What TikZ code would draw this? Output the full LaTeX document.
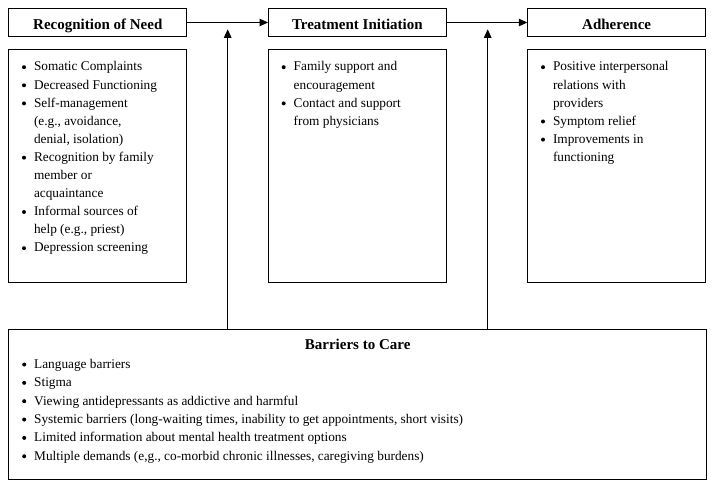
\documentclass[tikz,border=0pt]{standalone}
\usepackage{fontspec}
\setmainfont{Liberation Serif}
\usetikzlibrary{arrows.meta,calc}
\newcommand{\bulletmark}{\makebox[12pt][l]{\tikz[baseline=0pt]\fill (2pt,3.8pt) circle[radius=2pt];}}
\begin{document}
\begin{tikzpicture}[x=1pt,y=-1pt,
  box/.style={draw, line width=1pt, inner sep=0pt, anchor=north west},
  head/.style={box, minimum height=27.4pt, text height=14pt, text depth=0pt,
    font=\fontsize{15}{18}\selectfont\bfseries},
  content/.style={box, minimum height=232.7pt},
  listtext/.style={anchor=base west, inner sep=0pt, font=\fontsize{13.3}{18.1}\selectfont},
  blisttext/.style={anchor=base west, inner sep=0pt, font=\fontsize{13.3}{18.35}\selectfont},
  titletext/.style={anchor=base, inner sep=0pt, font=\fontsize{15}{18}\selectfont\bfseries},
  arr/.style={line width=1pt, -{Triangle[length=8.5pt,width=7.5pt]}}]
\useasboundingbox (0,0) rectangle (714,489);

% header boxes
\node[head, minimum width=178pt] (rn) at (8.3,8.3) {Recognition of Need};
\node[head, minimum width=177.7pt] (ti) at (268,8.3) {Treatment Initiation};
\node[head, minimum width=177.7pt] (ad) at (527.3,8.3) {Adherence};

% content boxes
\node[content, minimum width=178pt] (rc) at (8.3,49.3) {};
\node[content, minimum width=177.7pt] (tc) at (268,49.3) {};
\node[content, minimum width=177.7pt] (ac) at (527.3,49.3) {};

\node[listtext] (rl) at ($(rc.north west)+(13.5,21.7)$) {\begin{tabular}[t]{@{}l@{}l@{}}
\bulletmark & Somatic Complaints\\
\bulletmark & Decreased Functioning\\
\bulletmark & Self-management\\
 & (e.g., avoidance,\\
 & denial, isolation)\\
\bulletmark & Recognition by family\\
 & member or\\
 & acquaintance\\
\bulletmark & Informal sources of\\
 & help (e.g., priest)\\
\bulletmark & Depression screening
\end{tabular}};

\node[listtext] (tl) at ($(tc.north west)+(13.5,21.7)$) {\begin{tabular}[t]{@{}l@{}l@{}}
\bulletmark & Family support and\\
 & encouragement\\
\bulletmark & Contact and support\\
 & from physicians
\end{tabular}};

\node[listtext] (al) at ($(ac.north west)+(13.5,21.7)$) {\begin{tabular}[t]{@{}l@{}l@{}}
\bulletmark & Positive interpersonal\\
 & relations with\\
 & providers\\
\bulletmark & Symptom relief\\
\bulletmark & Improvements in\\
 & functioning
\end{tabular}};

% barriers box
\node[box, minimum width=697.7pt, minimum height=150pt] (bc) at (8.3,329.3) {};
\node[titletext] (bt) at ($(bc.north)+(0,20)$) {Barriers to Care};
\node[blisttext] (bl) at ($(bc.north west)+(13.7,39)$) {\begin{tabular}[t]{@{}l@{}l@{}}
\bulletmark & Language barriers\\
\bulletmark & Stigma\\
\bulletmark & Viewing antidepressants as addictive and harmful\\
\bulletmark & Systemic barriers (long-waiting times, inability to get appointments, short visits)\\
\bulletmark & Limited information about mental health treatment options\\
\bulletmark & Multiple demands (e,g., co-morbid chronic illnesses, caregiving burdens)
\end{tabular}};

% arrows
\draw[arr] (rn.east) -- (ti.west);
\draw[arr] (ti.east) -- (ad.west);
\coordinate (u1) at (227.7,29.3);
\coordinate (u2) at (487.7,29.3);
\draw[arr] (bc.north -| u1) -- (u1);
\draw[arr] (bc.north -| u2) -- (u2);
\end{tikzpicture}
\end{document}
